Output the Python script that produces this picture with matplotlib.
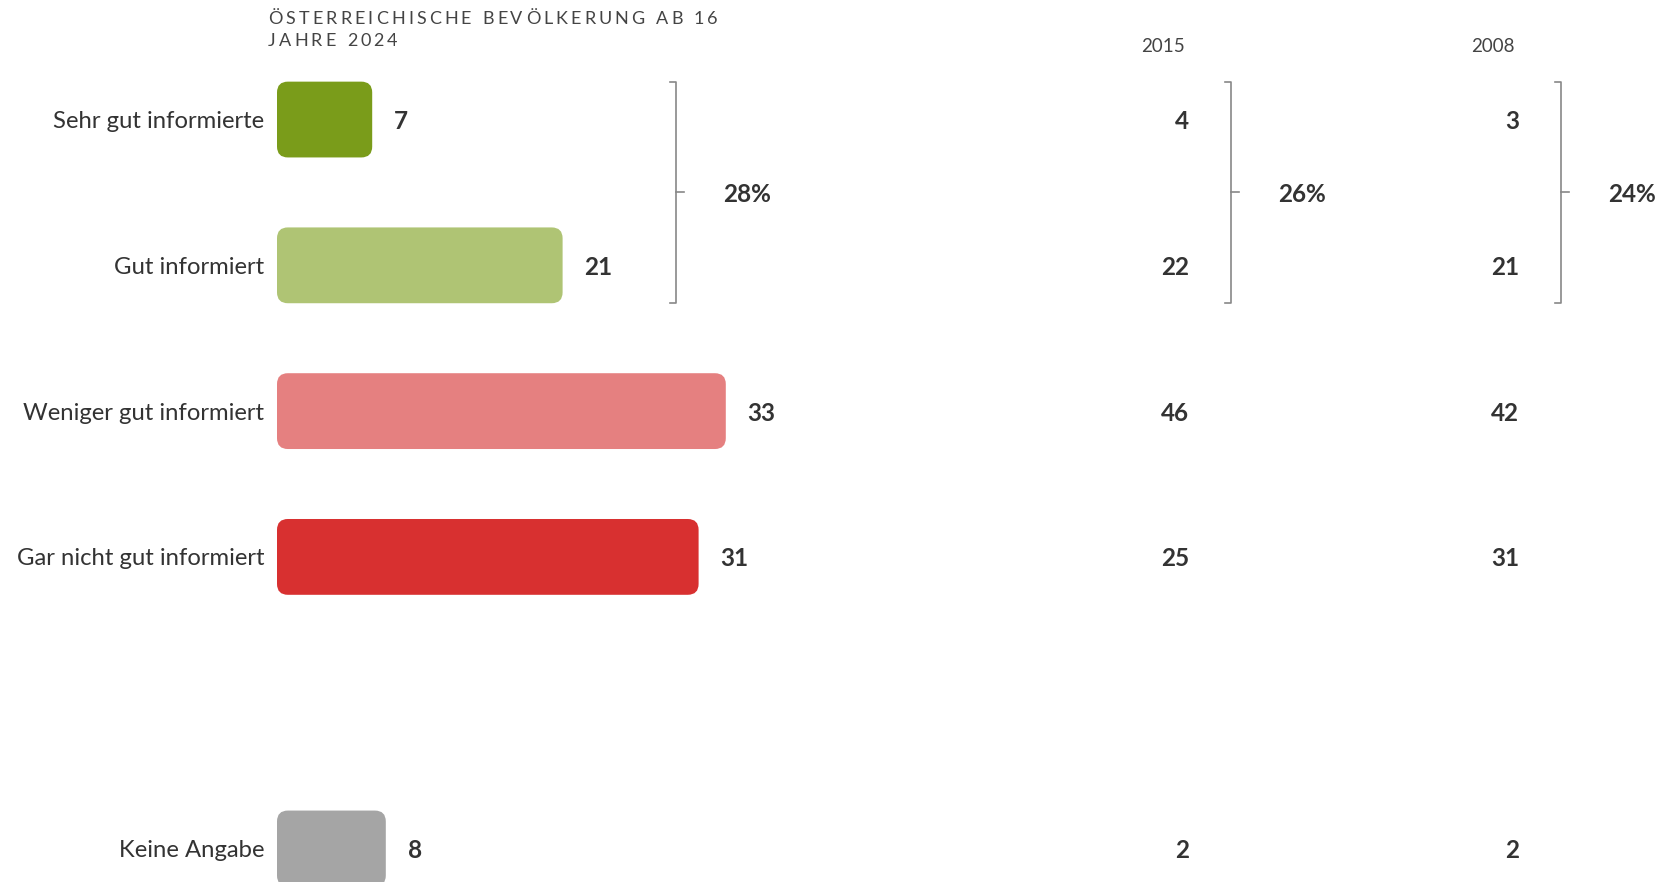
import matplotlib.pyplot as plt
from matplotlib.patches import FancyBboxPatch
from matplotlib.transforms import blended_transform_factory

plt.rcParams['font.family'] = ['Lato', 'DejaVu Sans']

# Anteile in Prozent
kategorien = ['Sehr gut informierte', 'Gut informiert', 'Weniger gut informiert',
              'Gar nicht gut informiert', 'Keine Angabe']
werte_2024 = [7, 21, 33, 31, 8]
werte_2015 = [4, 22, 46, 25, 2]
werte_2008 = [3, 21, 42, 31, 2]
positionen = [0, 1, 2, 3, 5]
farben = ['#7a9c1a', '#afc474', '#e58080', '#d83030', '#a5a5a5']
jahre = ['2015', '2008']
titel = ['ÖSTERREICHISCHE BEVÖLKERUNG AB 16', 'JAHRE 2024']

W, H = 1662, 882
px_pro_prozent = 13.6
fig = plt.figure(figsize=(W / 100, H / 100), dpi=100)
ax = fig.add_axes([277 / W, 0, 1 - 277 / W, 1])
ax.set_xlim(0, (W - 277) / px_pro_prozent)
ax.set_ylim(5.23, -0.82)
ax.axis('off')

text_col = '#333333'
hoehe = 0.52
aspect = px_pro_prozent / 146

for pos, wert, farbe, name in zip(positionen, werte_2024, farben, kategorien):
    box = FancyBboxPatch((0, pos - hoehe / 2), wert, hoehe,
                         boxstyle='round,pad=0,rounding_size=0.8',
                         mutation_aspect=aspect, fc=farbe, ec='none')
    ax.add_patch(box)
    ax.text(wert + 1.6, pos, str(wert), ha='left', va='center_baseline',
            fontsize=17.5, fontweight='bold', color=text_col)
    ax.text(-0.95, pos, name, ha='right', va='center_baseline',
            fontsize=17.2, color=text_col)

# Vergleichsspalten
tr = blended_transform_factory(fig.transFigure, ax.transData)
for x_rechts, werte in [(1189 / W, werte_2015), (1519 / W, werte_2008)]:
    for pos, wert in zip(positionen, werte):
        ax.text(x_rechts, pos, str(wert), transform=tr, ha='right', va='center_baseline',
                fontsize=17.5, fontweight='bold', color=text_col)

for jahr, x in zip(jahre, [1163 / W, 1493 / W]):
    fig.text(x, 1 - 45 / H, jahr, ha='center', va='center_baseline', fontsize=13.5,
             color='#444444')

# Klammern mit Summe der gut informierten
for x_px, werte in [(676, werte_2024), (1231, werte_2015), (1561, werte_2008)]:
    x = x_px / W
    dx = 6 / W
    ax.plot([x - dx, x, x, x - dx], [-0.26, -0.26, 1.26, 1.26], transform=tr,
            color='#888888', lw=1.2, clip_on=False)
    ax.plot([x, x + 1.3 * dx], [0.5, 0.5], transform=tr, color='#888888', lw=1.2,
            clip_on=False)
    ax.text((x_px + 47) / W, 0.5, f'{werte[0] + werte[1]}%', transform=tr,
            ha='left', va='center_baseline', fontsize=17.5, fontweight='bold',
            color=text_col)

# Titel mit Sperrung
fig.canvas.draw()
renderer = fig.canvas.get_renderer()
for i, zeile in enumerate(titel):
    x = 268
    y = H - 18 - i * 22
    for ch in zeile:
        t = fig.text(x / W, y / H, ch, ha='left', va='center_baseline', fontsize=13,
                     color='#444444')
        if ch == ' ':
            breite = 5
        else:
            breite = t.get_window_extent(renderer).width
        x += breite + 3.1

fig.savefig('out.png', dpi=100)
